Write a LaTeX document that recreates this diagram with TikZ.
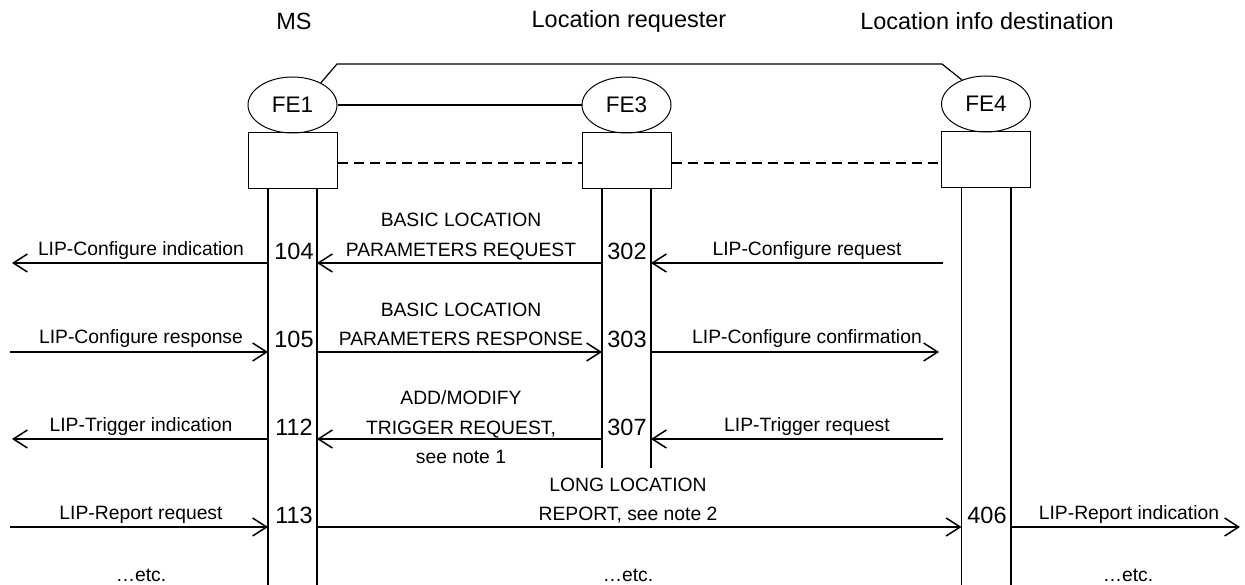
\documentclass[tikz,border=0pt]{standalone}
\usepackage{fontspec}
\setmainfont{Liberation Sans}
\usetikzlibrary{arrows.meta,shapes.geometric}
\newcommand\lblfont{\fontsize{19.3}{29.5}\selectfont}
\newcommand\hdrfont{\fontsize{23.5}{28}\selectfont}
\begin{document}
\begin{tikzpicture}[x=1pt,y=-1pt,
  lbl/.style={font=\lblfont, align=center, inner sep=0pt},
  hdr/.style={font=\hdrfont, inner sep=0pt},
  fe/.style={draw, line width=1pt, ellipse, minimum width=89pt, minimum height=56pt, inner sep=0pt, font=\fontsize{22.5}{26}\selectfont},
  febox/.style={draw, line width=1pt, minimum width=89pt, minimum height=56pt, inner sep=0pt},
  life/.style={line width=1.3pt},
  link/.style={line width=1.2pt},
  dlink/.style={line width=1.2pt, dash pattern=on 10pt off 6pt},
  arr/.style={line width=1.5pt, -{Straight Barb[length=14pt,width=18pt,line width=1.5pt]}},
]
\useasboundingbox (0,0) rectangle (1245,585);

% headers
\node[hdr] (hms) at (294,21) {MS};
\node[hdr] (hlr) at (629,21) {Location requester};
\node[hdr] (hld) at (987,21) {Location info destination};

% functional entities
\node[fe] (fe1) at (292.5,105) {FE1};
\node[fe] (fe3) at (626.5,105) {FE3};
\node[fe] (fe4) at (986,104) {FE4};
\node[febox] (b1) at (292.5,161) {};
\node[febox] (b3) at (626.5,161) {};
\node[febox] (b4) at (986,160) {};

% relations
\draw[link] (fe1) -- (fe3);
\coordinate (k1) at (337,64);
\coordinate (k2) at (942,64);
\draw[link] (fe1.38) -- (k1) -- (k2) -- (fe4.135);
\draw[dlink] (b1.east |- 0,163) -- (b3.west |- 0,163);
\draw[dlink] (b3.east |- 0,163) -- (b4.west |- 0,163);

% lifelines
\coordinate (m1) at (268,189);
\coordinate (m2) at (317,189);
\coordinate (r1) at (602,189);
\coordinate (r2) at (651,189);
\coordinate (d1) at (961.5,188);
\coordinate (d2) at (1011,188);
\coordinate (bot) at (0,586);
\coordinate (rend) at (0,468);
\draw[life] (m1) -- (m1 |- bot);
\draw[life] (m2) -- (m2 |- bot);
\draw[life] (r1) -- (r1 |- rend);
\draw[life] (r2) -- (r2 |- rend);
\draw[life] (d1) -- (d1 |- bot);
\draw[life] (d2) -- (d2 |- bot);

% rows and free ends
\coordinate (y1) at (0,263);
\coordinate (y2) at (0,352);
\coordinate (y3) at (0,439);
\coordinate (y4) at (0,527);
\coordinate (lft) at (12,0);
\coordinate (lst) at (10,0);
\coordinate (mst) at (943,0);
\coordinate (mtp) at (939,0);
\coordinate (rtp) at (1240,0);

% row 1
\draw[arr] (m1 |- y1) -- (lft |- y1);
\draw[arr] (r1 |- y1) -- (m2 |- y1);
\draw[arr] (mst |- y1) -- (r2 |- y1);
\node[lbl] (t11) at (141,251) {LIP-Configure indication};
\node[hdr] (n104) at (294,251) {104};
\node[lbl] (t12) at (461,236.5) {BASIC LOCATION\\PARAMETERS REQUEST};
\node[hdr] (n302) at (627,251) {302};
\node[lbl] (t13) at (807,251) {LIP-Configure request};

% row 2
\draw[arr] (lst |- y2) -- (m1 |- y2);
\draw[arr] (m2 |- y2) -- (r1 |- y2);
\draw[arr] (r2 |- y2) -- (mtp |- y2);
\node[lbl] (t21) at (141,339) {LIP-Configure response};
\node[hdr] (n105) at (294,339) {105};
\node[lbl] (t22) at (461,324.5) {BASIC LOCATION\\PARAMETERS RESPONSE};
\node[hdr] (n303) at (627,339) {303};
\node[lbl] (t23) at (807,339) {LIP-Configure confirmation};

% row 3
\draw[arr] (m1 |- y3) -- (lft |- y3);
\draw[arr] (r1 |- y3) -- (m2 |- y3);
\draw[arr] (mst |- y3) -- (r2 |- y3);
\node[lbl] (t31) at (141,427) {LIP-Trigger indication};
\node[hdr] (n112) at (294,427) {112};
\node[lbl] (t32) at (461,427.5) {ADD/MODIFY\\TRIGGER REQUEST,\\see note 1};
\node[hdr] (n307) at (627,427) {307};
\node[lbl] (t33) at (807,427) {LIP-Trigger request};

% row 4
\draw[arr] (lst |- y4) -- (m1 |- y4);
\draw[arr] (m2 |- y4) -- (d1 |- y4);
\draw[arr] (d2 |- y4) -- (rtp |- y4);
\node[lbl] (t41) at (141,515) {LIP-Report request};
\node[hdr] (n113) at (294,515) {113};
\node[lbl] (t42) at (628,500.5) {LONG LOCATION\\REPORT, see note 2};
\node[hdr] (n406) at (987,515) {406};
\node[lbl] (t43) at (1129,515) {LIP-Report indication};

% etc
\node[lbl] (e1) at (141,575) {\dots etc.};
\node[lbl] (e2) at (628,575) {\dots etc.};
\node[lbl] (e3) at (1128,575) {\dots etc.};
\end{tikzpicture}
\end{document}
